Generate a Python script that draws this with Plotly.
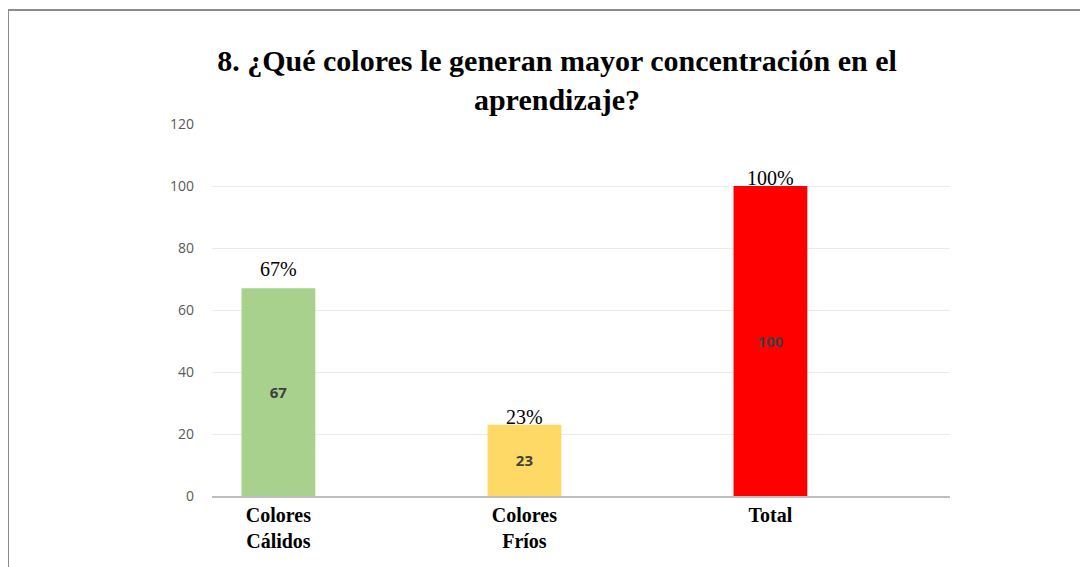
import plotly.graph_objects as go

categories = ["Colores<br>Cálidos", "Colores<br>Fríos", "Total"]
values = [67, 23, 100]
pct_labels = ["67%", "23%", "100%"]
bar_colors = ["#a9d18e", "#ffd966", "#ff0000"]
y_ticks = [0, 20, 40, 60, 80, 100, 120]

SERIF = "Liberation Serif, Times New Roman, serif"
SANS = "Open Sans, Liberation Sans, sans-serif"

# page body adds an 8px margin, so the figure is sized to fit the window
W, H = 1080, 559
L, R, T, B = 204, 138, 116, 71
PW, PH = W - L - R, H - T - B

fig = go.Figure()

fig.add_trace(go.Bar(
    x=categories, y=values,
    marker={"color": bar_colors, "line": {"width": 0}},
    width=0.3,
    text=[str(v) for v in values],
    textposition="inside",
    insidetextanchor="middle",
    textangle=0,
    textfont={"family": SANS, "size": 15, "color": "#404040", "weight": "bold"},
    showlegend=False,
))

# percentage labels above bars (offsets tuned to reference)
pct_shift = [6, -5, -5]
for cat, val, lab, sh in zip(categories, values, pct_labels, pct_shift):
    fig.add_annotation(
        x=cat, y=val, text=lab, showarrow=False,
        yanchor="bottom", yshift=sh,
        font={"family": SERIF, "size": 20, "color": "#000000"},
    )

# outer frame (gray border on top and left)
frame = {"type": "line", "xref": "paper", "yref": "paper",
         "line": {"color": "#8c8c8c", "width": 2}}
top_y = (H - B - 2) / PH
left_x = (0 - L) / PW
fig.add_shape(**frame, x0=left_x, x1=(W + 5 - L) / PW, y0=top_y, y1=top_y)
fig.add_shape(**frame, x0=left_x, x1=left_x, y0=top_y, y1=-(B + 5) / PH)

fig.update_layout(
    width=W, height=H,
    margin={"l": L, "r": R, "t": T, "b": B},
    paper_bgcolor="white", plot_bgcolor="white",
    title={
        "text": "<b>8. ¿Qué colores le generan mayor concentración en el<br>aprendizaje?</b>",
        "x": 549 / W, "xanchor": "center",
        "y": 1 - 63 / H, "yanchor": "middle",
        "font": {"family": SERIF, "size": 30, "color": "#000000"},
    },
)
fig.update_xaxes(
    range=[-0.27, 2.73],
    showgrid=False, showline=True, linecolor="#bfbfbf", linewidth=1.5,
    tickfont={"family": SERIF, "size": 20, "color": "#000000", "weight": "bold"},
    ticks="",
)
fig.update_yaxes(
    range=[0, 120], tickvals=y_ticks,
    showgrid=True, gridcolor="#ebebeb", gridwidth=1,
    zeroline=False, showline=False, ticks="",
    ticklabelstandoff=17,
    tickfont={"family": SANS, "size": 14, "color": "#595959"},
)

fig.write_html("out.html")
